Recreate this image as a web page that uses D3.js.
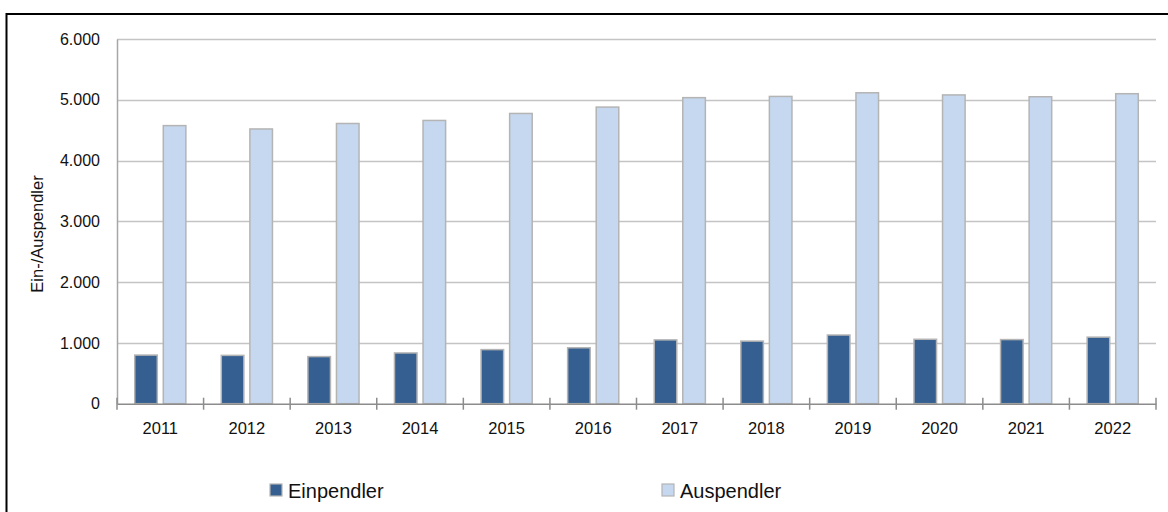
<!DOCTYPE html>
<html>
<head>
<meta charset="utf-8">
<script src="https://cdn.jsdelivr.net/npm/d3@7"></script>
<style>
  html, body { margin: 0; padding: 0; background: #fff; }
  svg { display: block; }
  text { font-family: "Liberation Sans", Arial, sans-serif; fill: #111; }
</style>
</head>
<body>
<svg id="chart" width="1168" height="512"></svg>
<script>
const years = ["2011","2012","2013","2014","2015","2016","2017","2018","2019","2020","2021","2022"];
const einpendler = [800, 795, 775, 835, 890, 920, 1050, 1030, 1130, 1060, 1055, 1095];
const auspendler = [4575, 4520, 4610, 4660, 4775, 4880, 5035, 5055, 5115, 5080, 5050, 5100];
const seriesNames = ["Einpendler", "Auspendler"];
const yTicks = [0, 1000, 2000, 3000, 4000, 5000, 6000];
const yTitle = "Ein-/Auspendler";

const colors = { Einpendler: "#355f90", Auspendler: "#c6d8ef" };

const svg = d3.select("#chart");
const W = 1168, H = 512;
const mLeft = 117, mRight = 1156, mTop = 39, mBottom = 403.7;

// frame
svg.append("line").attr("x1", 6).attr("x2", W).attr("y1", 14).attr("y2", 14)
  .attr("stroke", "#000").attr("stroke-width", 2);
svg.append("line").attr("x1", 6.5).attr("x2", 6.5).attr("y1", 13).attr("y2", H)
  .attr("stroke", "#000").attr("stroke-width", 2);

const x = d3.scaleBand().domain(years).range([mLeft, mRight]).padding(0);
const inner = d3.scaleBand().domain(seriesNames).range([0, x.bandwidth()])
  .paddingInner(0.21).paddingOuter(0.62);
const y = d3.scaleLinear().domain([0, 6000]).range([mBottom, mTop]);

const loc = d3.formatLocale({ decimal: ",", thousands: ".", grouping: [3], currency: ["", "€"] });
const fmt = loc.format(",d");

// gridlines
svg.append("g").selectAll("line").data(yTicks.filter(d => d > 0)).join("line")
  .attr("x1", mLeft).attr("x2", mRight)
  .attr("y1", d => Math.round(y(d)) + 0.5).attr("y2", d => Math.round(y(d)) + 0.5)
  .attr("stroke", "#c4c4c4").attr("stroke-width", 1.5);

// y axis
const yAxis = svg.append("g").attr("transform", `translate(${mLeft},0)`)
  .call(d3.axisLeft(y).tickValues(yTicks).tickFormat(fmt).tickSize(0).tickPadding(17));
yAxis.select(".domain").attr("stroke", "#a6a6a6").attr("stroke-width", 1.5);
yAxis.selectAll("text").style("font-size", "16px").attr("fill", "#111")
  .style("font-family", "'Liberation Sans', Arial, sans-serif");

// bars
const data = years.map((yr, i) => ({ year: yr, values: [
  { key: "Einpendler", value: einpendler[i] },
  { key: "Auspendler", value: auspendler[i] }
]}));
const groups = svg.append("g").selectAll("g").data(data).join("g")
  .attr("transform", d => `translate(${x(d.year)},0)`);
groups.selectAll("rect").data(d => d.values).join("rect")
  .attr("x", d => inner(d.key))
  .attr("width", inner.bandwidth())
  .attr("y", d => y(d.value))
  .attr("height", d => y(0) - y(d.value))
  .attr("fill", d => colors[d.key])
  .attr("stroke", "#b4b4b4").attr("stroke-width", 1.5);

// x axis
const xAxis = svg.append("g").attr("transform", `translate(0,${mBottom})`)
  .call(d3.axisBottom(x).tickSize(0).tickPadding(19));
xAxis.select(".domain").attr("stroke", "#8c8c8c").attr("stroke-width", 1.5);
xAxis.selectAll("text").style("font-size", "16.5px").attr("fill", "#111")
  .style("font-family", "'Liberation Sans', Arial, sans-serif");
// boundary ticks
const bounds = years.map(d => x(d)).concat([mRight]);
xAxis.append("g").selectAll("line").data(bounds).join("line")
  .attr("x1", d => d).attr("x2", d => d).attr("y1", -6).attr("y2", 6)
  .attr("stroke", "#8c8c8c").attr("stroke-width", 1.5);

// y title
svg.append("text")
  .attr("transform", `translate(43,234) rotate(-90)`)
  .attr("text-anchor", "middle")
  .style("font-size", "16.5px")
  .text(yTitle);

// legend
const legendX = [270, 662];
const leg = svg.append("g").selectAll("g").data(seriesNames).join("g")
  .attr("transform", (d, i) => `translate(${legendX[i]},484)`);
leg.append("rect").attr("x", 0).attr("y", 0).attr("width", 12).attr("height", 12)
  .attr("fill", d => colors[d]).attr("stroke", "#b4b4b4").attr("stroke-width", 1.2);
leg.append("text").attr("x", 18).attr("y", 14)
  .style("font-size", "20px")
  .text(d => d);
</script>
</body>
</html>
